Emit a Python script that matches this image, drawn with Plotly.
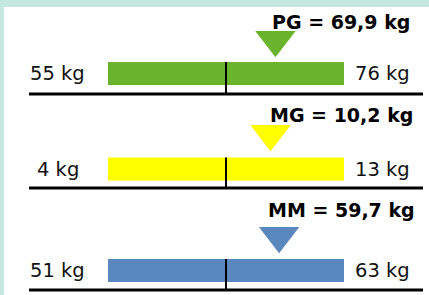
import plotly.graph_objects as go

# ---- data ----
names = ["PG", "MG", "MM"]
values = [69.9, 10.2, 59.7]
lows = [55, 4, 51]
highs = [76, 13, 63]
unit = "kg"
colors = ["#6AB42D", "#FFFF00", "#5B87BF"]

# ---- layout constants (page pixels) ----
W, H = 429, 295
ML, MT = 4, 7
PW = W - ML
BAR_L, BAR_R = 108, 344
BAR_H = 23
row_bar_y = [73.5, 169, 270.5]
row_tri_top = [31, 125, 227]
row_title_y = [22, 115, 210]
row_base_y = [94, 188, 290]
TRI_SIZE = 35
FONT = "DejaVu Sans"


def px(x):
    return (x - ML) / PW


def fmt(v):
    return f"{v:.1f}".replace(".", ",")


fig = go.Figure()
shapes = []
annotations = []
layout_axes = {}

for i, (n, v, lo, hi, c) in enumerate(zip(names, values, lows, highs, colors)):
    ax = "" if i == 0 else str(i + 1)
    ppu = (BAR_R - BAR_L) / (hi - lo)
    r0 = lo - (BAR_L - ML) / ppu
    r1 = hi + (W - BAR_R) / ppu
    fig.add_trace(go.Bar(
        x=[hi - lo], base=[lo], y=[row_bar_y[i]], orientation="h", width=BAR_H,
        marker=dict(color=c, line=dict(width=0)), xaxis="x" + ax, yaxis="y",
        hoverinfo="skip", showlegend=False))
    fig.add_trace(go.Scatter(
        x=[v], y=[row_tri_top[i] + TRI_SIZE / 4], mode="markers",
        marker=dict(symbol="triangle-down", size=TRI_SIZE, color=c, line=dict(width=0)),
        xaxis="x" + ax, yaxis="y", hoverinfo="skip", showlegend=False))
    axd = dict(range=[r0, r1], visible=False, domain=[0, 1], anchor="y", fixedrange=True)
    if i > 0:
        axd["overlaying"] = "x"
    layout_axes["xaxis" + ax] = axd
    mid = (lo + hi) / 2
    shapes.append(dict(type="line", xref="x" + ax, yref="y", x0=mid, x1=mid,
                       y0=row_bar_y[i] - BAR_H / 2, y1=row_base_y[i],
                       line=dict(color="black", width=2)))
    shapes.append(dict(type="line", xref="paper", yref="y", x0=px(29), x1=px(423),
                       y0=row_base_y[i], y1=row_base_y[i],
                       line=dict(color="black", width=3)))
    annotations.append(dict(xref="paper", yref="y", x=px(341), y=row_title_y[i],
                            text=f"<b>{n} = {fmt(v)} {unit}</b>", showarrow=False,
                            xanchor="center", yanchor="middle",
                            font=dict(family=FONT, size=19, color="black")))
    annotations.append(dict(xref="paper", yref="y", x=px(58), y=row_bar_y[i],
                            text=f"{lo} {unit}", showarrow=False,
                            xanchor="center", yanchor="middle",
                            font=dict(family=FONT, size=19.5, color="#111111")))
    annotations.append(dict(xref="paper", yref="y", x=px(382), y=row_bar_y[i],
                            text=f"{hi} {unit}", showarrow=False,
                            xanchor="center", yanchor="middle",
                            font=dict(family=FONT, size=19.5, color="#111111")))

fig.update_layout(
    width=W, height=H,
    margin=dict(l=ML, r=0, t=MT, b=0, pad=0),
    paper_bgcolor="#C4E8E0", plot_bgcolor="white",
    barmode="overlay",
    yaxis=dict(range=[H, MT], visible=False, fixedrange=True, anchor="x"),
    shapes=shapes, annotations=annotations,
    **layout_axes,
)

fig.write_html("out.html", config=dict(displayModeBar=False))
